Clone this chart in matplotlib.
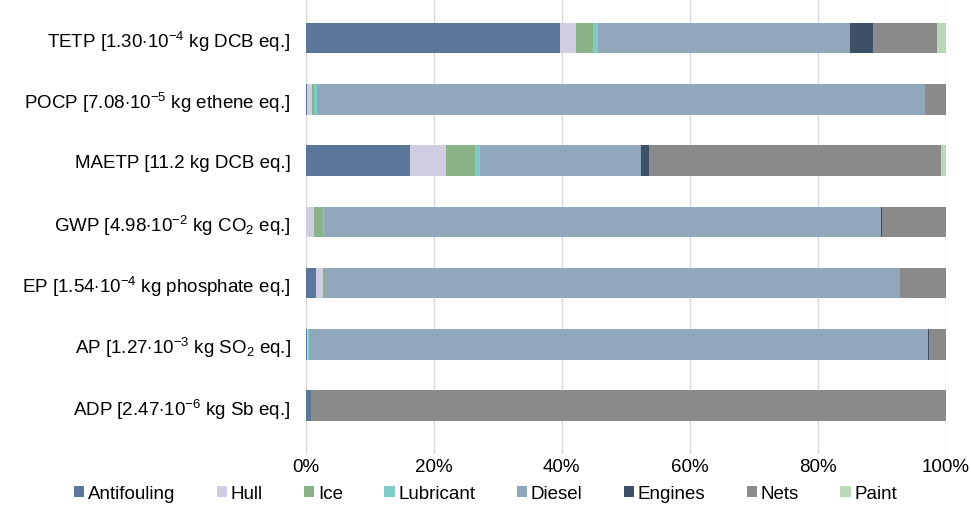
import numpy as np
import matplotlib
matplotlib.use("Agg")
import matplotlib.pyplot as plt

plt.rcParams["font.family"] = ["Liberation Sans", "DejaVu Sans"]
plt.rcParams["mathtext.fontset"] = "custom"
plt.rcParams["mathtext.rm"] = "Liberation Sans"
plt.rcParams["mathtext.it"] = "Liberation Sans:italic"
plt.rcParams["mathtext.bf"] = "Liberation Sans:bold"

# categorias de impacto (de baixo para cima)
categorias = [
    r"ADP [2.47$\cdot$10$^{-6}$ kg Sb eq.]",
    r"AP [1.27$\cdot$10$^{-3}$ kg SO$_2$ eq.]",
    r"EP [1.54$\cdot$10$^{-4}$ kg phosphate eq.]",
    r"GWP [4.98$\cdot$10$^{-2}$ kg CO$_2$ eq.]",
    r"MAETP [11.2 kg DCB eq.]",
    r"POCP [7.08$\cdot$10$^{-5}$ kg ethene eq.]",
    r"TETP [1.30$\cdot$10$^{-4}$ kg DCB eq.]",
]

componentes = ["Antifouling", "Hull", "Ice", "Lubricant", "Diesel", "Engines", "Nets", "Paint"]

# contribuicoes em % (ADP, AP, EP, GWP, MAETP, POCP, TETP)
antifouling = [0.8, 0.1, 1.6, 0.0, 16.2, 0.2, 39.7]
hull        = [0.0, 0.2, 1.0, 1.3, 5.7, 0.8, 2.5]
ice         = [0.0, 0.1, 0.4, 1.4, 4.5, 0.2, 2.7]
lubricant   = [0.0, 0.1, 0.0, 0.2, 0.8, 0.5, 0.7]
diesel      = [0.0, 96.8, 89.8, 87.0, 25.2, 95.0, 39.5]
engines     = [0.0, 0.1, 0.0, 0.2, 1.2, 0.0, 3.6]
nets        = [99.2, 2.6, 7.2, 9.9, 45.6, 3.3, 10.0]
paint       = [0.0, 0.0, 0.0, 0.0, 0.8, 0.0, 1.3]

cores = ["#5a7799", "#d0cde3", "#8bb38a", "#7ecbc8", "#91a8bc", "#3d5068", "#8a8a8a", "#b9d7b9"]

series = [antifouling, hull, ice, lubricant, diesel, engines, nets, paint]

fig = plt.figure(figsize=(9.71, 5.06), dpi=100)
ax = fig.add_axes([0.315, 0.101, 0.659, 0.899])

y = np.arange(len(categorias))
esquerda = np.zeros(len(categorias))
for nome, valores, cor in zip(componentes, series, cores):
    valores = np.array(valores)
    ax.barh(y, valores, left=esquerda, height=0.5, color=cor, label=nome, zorder=3)
    esquerda += valores

ax.set_xlim(0, 100)
ax.set_ylim(-0.79, 6.64)
ax.set_xticks([0, 20, 40, 60, 80, 100])
ax.set_xticklabels(["0%", "20%", "40%", "60%", "80%", "100%"], fontsize=13.5)
ax.set_yticks(y)
ax.set_yticklabels(categorias, fontsize=13.5)
ax.tick_params(axis="x", length=0, pad=3)
ax.tick_params(axis="y", length=0, pad=11)
ax.grid(axis="x", color="#d9d9d9", linewidth=1, zorder=0)
for lado in ["top", "right", "bottom"]:
    ax.spines[lado].set_visible(False)
ax.spines["left"].set_color("#d9d9d9")

fig.legend(loc="center", bbox_to_anchor=(0.5, 0.022), ncol=8, frameon=False,
           fontsize=13.5, handlelength=0.55, handleheight=0.55, handletextpad=0.2,
           columnspacing=2.2)

plt.savefig("out.png", dpi=100)
plt.close()
